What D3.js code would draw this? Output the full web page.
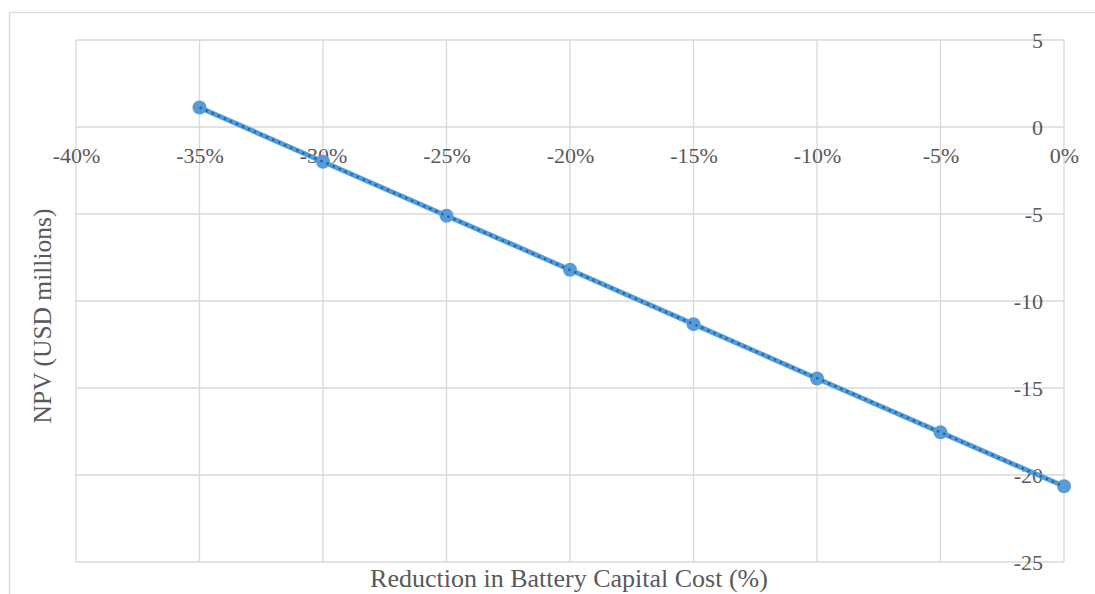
<!DOCTYPE html>
<html><head><meta charset="utf-8">
<script src="https://cdn.jsdelivr.net/npm/d3@7"></script>
<style>body{margin:0;background:#fff;}svg{display:block;}
svg text{font-family:"Liberation Serif","Times New Roman","DejaVu Serif",serif !important;fill:#595959;}
</style>
</head><body>
<svg id="c" width="1095" height="594"></svg>
<script>
const reductions = [-0.35, -0.30, -0.25, -0.20, -0.15, -0.10, -0.05, 0];
const npv = [1.12, -2.0, -5.1, -8.2, -11.33, -14.45, -17.55, -20.65];
const xTicks = [-0.40, -0.35, -0.30, -0.25, -0.20, -0.15, -0.10, -0.05, 0];
const yTicks = [5, 0, -5, -10, -15, -20, -25];
const xTitle = "Reduction in Battery Capital Cost (%)";
const yTitle = "NPV (USD millions)";

const svg = d3.select("#c");
const x = d3.scaleLinear().domain([-0.40, 0]).range([76, 1064]);
const y = d3.scaleLinear().domain([5, -25]).range([40, 562]);
const grid = "#D9D9D9";

svg.append("rect").attr("x", 9.5).attr("y", 12.5).attr("width", 1100).attr("height", 600)
  .attr("fill", "none").attr("stroke", grid).attr("stroke-width", 1.3);

svg.append("g").selectAll("line").data(yTicks).join("line")
  .attr("x1", x(-0.40)).attr("x2", x(0)).attr("y1", d => y(d)).attr("y2", d => y(d))
  .attr("stroke", grid).attr("stroke-width", 1.3);
svg.append("g").selectAll("line").data(xTicks).join("line")
  .attr("x1", d => x(d)).attr("x2", d => x(d)).attr("y1", y(5)).attr("y2", y(-25))
  .attr("stroke", grid).attr("stroke-width", 1.3);

const xAxis = svg.append("g").attr("transform", `translate(0,${y(0)})`)
  .call(d3.axisBottom(x).tickValues(xTicks).tickFormat(d => Math.round(d * 100) + "%").tickSize(0).tickPadding(20));
xAxis.select(".domain").remove();
xAxis.selectAll("text").attr("font-size", 22);

const yAxis = svg.append("g").attr("transform", `translate(${x(0)},0)`)
  .call(d3.axisLeft(y).tickValues(yTicks).tickFormat(d => String(d)).tickSize(0).tickPadding(21));
yAxis.select(".domain").remove();
yAxis.selectAll("text").attr("font-size", 22);

const pts = reductions.map((r, i) => [r, npv[i]]);
const line = d3.line().x(d => x(d[0])).y(d => y(d[1]));

svg.append("path").datum(pts).attr("d", line).attr("fill", "none")
  .attr("stroke", "#5B9BD5").attr("stroke-width", 5);
svg.append("g").selectAll("circle").data(pts).join("circle")
  .attr("cx", d => x(d[0])).attr("cy", d => y(d[1])).attr("r", 7).attr("fill", "#5B9BD5");

// linear trendline (dotted)
const reg = d3.extent(reductions);
const mx = d3.mean(reductions), my = d3.mean(npv);
const slope = d3.sum(pts, d => (d[0]-mx)*(d[1]-my)) / d3.sum(pts, d => (d[0]-mx)**2);
const icpt = my - slope*mx;
svg.append("path").datum(reg.map(r => [r, icpt + slope*r])).attr("d", line)
  .attr("fill", "none").attr("stroke", "#0070C0").attr("stroke-width", 2.4)
  .attr("stroke-dasharray", "2.4,4.2");

svg.append("text").attr("x", 569).attr("y", 587).attr("text-anchor", "middle")
  .attr("font-size", 26).text(xTitle);
svg.append("text").attr("transform", `translate(51,316) rotate(-90)`)
  .attr("text-anchor", "middle").attr("font-size", 25.5).text(yTitle);
</script>
</body></html>
